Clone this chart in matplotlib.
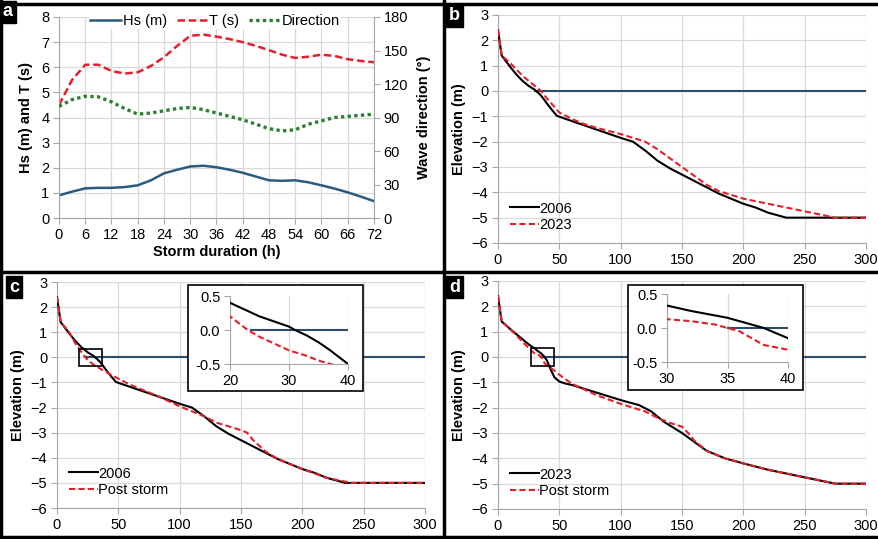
import matplotlib
matplotlib.use("Agg")
import matplotlib.pyplot as plt
from matplotlib.patches import Rectangle
from matplotlib.lines import Line2D

plt.rcParams['font.family'] = ['Liberation Sans', 'DejaVu Sans']
plt.rcParams['font.size'] = 10.5

# ---- panel a: storm time series ----
hours = [0, 3, 6, 9, 12, 15, 18, 21, 24, 27, 30, 33, 36, 39, 42, 45, 48, 51, 54,
         57, 60, 63, 66, 69, 72]
hs = [0.9, 1.05, 1.18, 1.2, 1.2, 1.23, 1.3, 1.5, 1.78, 1.92, 2.05, 2.08, 2.02,
      1.92, 1.8, 1.65, 1.5, 1.48, 1.5, 1.42, 1.3, 1.17, 1.02, 0.85, 0.67]
period = [4.5, 5.5, 6.1, 6.1, 5.85, 5.75, 5.8, 6.05, 6.4, 6.85, 7.25, 7.3, 7.22,
          7.12, 7.0, 6.85, 6.68, 6.5, 6.37, 6.42, 6.5, 6.45, 6.32, 6.25, 6.2]
direction = [100, 106, 109, 108.5, 104, 98, 93, 94, 96, 98, 99, 97, 94, 91, 88,
             84, 80, 78, 79, 84, 87, 90, 91, 92, 93]

# ---- beach profiles (distance m, elevation m) ----
x_2006 = [0, 3, 10, 15, 20, 25, 30, 31, 33, 35, 37, 40, 44, 48, 55, 70, 85, 100,
          110, 120, 130, 140, 150, 160, 170, 180, 190, 200, 210, 220, 235, 300]
z_2006 = [2.4, 1.4, 0.95, 0.65, 0.4, 0.2, 0.05, 0.0, -0.08, -0.18, -0.3, -0.5,
          -0.75, -0.98, -1.1, -1.35, -1.6, -1.85, -2.0, -2.35, -2.75, -3.05, -3.3,
          -3.55, -3.8, -4.05, -4.25, -4.45, -4.6, -4.8, -5.0, -5.0]

x_2023_b = [0, 3, 10, 20, 30, 35, 40, 50, 60, 70, 80, 100, 120, 130, 140, 150,
            160, 170, 180, 190, 200, 220, 240, 260, 275, 300]
z_2023_b = [2.4, 1.4, 1.1, 0.6, 0.2, 0.0, -0.3, -0.85, -1.1, -1.3, -1.45, -1.7,
            -2.0, -2.3, -2.65, -3.0, -3.35, -3.7, -3.95, -4.1, -4.25, -4.45,
            -4.65, -4.85, -5.0, -5.0]

x_post_c = [0, 3, 10, 15, 20, 23, 25, 28, 30, 33, 35, 37, 40, 45, 50, 60, 80,
            100, 120, 130, 140, 150, 155, 160, 170, 180, 200, 220, 240, 300]
z_post_c = [2.4, 1.4, 1.0, 0.55, 0.2, 0.0, -0.1, -0.22, -0.3, -0.38, -0.45,
            -0.5, -0.58, -0.72, -0.85, -1.1, -1.5, -1.95, -2.35, -2.6, -2.75,
            -2.9, -3.0, -3.3, -3.75, -4.05, -4.45, -4.8, -5.0, -5.0]

x_2023_d = [0, 3, 10, 20, 25, 30, 32, 35, 38, 40, 43, 46, 50, 55, 60, 80, 100,
            115, 125, 135, 150, 160, 170, 185, 200, 220, 240, 260, 275, 300]
z_2023_d = [2.4, 1.4, 1.1, 0.7, 0.5, 0.33, 0.25, 0.15, 0.0, -0.15, -0.5, -0.8,
            -0.97, -1.05, -1.1, -1.4, -1.7, -1.9, -2.15, -2.55, -3.0, -3.35, -3.7,
            -4.0, -4.2, -4.45, -4.65, -4.85, -5.0, -5.0]

x_post_d = [0, 3, 10, 20, 25, 30, 32, 34, 35, 36, 37, 38, 40, 45, 50, 60, 80,
            100, 120, 130, 140, 150, 155, 160, 170, 185, 200, 220, 240, 260, 275,
            300]
z_post_d = [2.4, 1.4, 1.1, 0.6, 0.35, 0.13, 0.1, 0.05, 0.0, -0.05, -0.15, -0.25,
            -0.32, -0.5, -0.7, -1.05, -1.5, -1.85, -2.15, -2.4, -2.6, -2.75, -3.0,
            -3.3, -3.7, -4.0, -4.2, -4.45, -4.65, -4.85, -5.0, -5.0]

# sea level starts where the shoreline meets z = 0
sea_start = {'b': 30, 'c': 23.5, 'd': 35}

RED = '#E3202A'
BLUE = '#2B5B7E'
SEA = '#2E4D6E'
GREEN = '#2E7D32'
GRID = '#D9D9D9'
SPINE = '#A6A6A6'

W, H = 879, 539
fig = plt.figure(figsize=(W / 100, H / 100), dpi=100)


def px_axes(x0, x1, ytop, ybot):
    return fig.add_axes([x0 / W, (H - ybot) / H, (x1 - x0) / W, (ybot - ytop) / H])


def style(ax, grid_y=True):
    for s in ['top', 'right']:
        ax.spines[s].set_visible(False)
    for s in ['left', 'bottom']:
        ax.spines[s].set_color(SPINE)
    ax.tick_params(direction='out', length=4, color=SPINE, pad=3)
    ax.grid(True, axis='x', color=GRID, lw=0.9)
    if grid_y:
        ax.grid(True, axis='y', color=GRID, lw=0.9)
    ax.set_axisbelow(True)


# ---- panel a ----
ax = px_axes(59, 374, 17, 218)
style(ax)
l1, = ax.plot(hours, hs, color=BLUE, lw=1.8, label='Hs (m)')
l2, = ax.plot(hours, period, color=RED, lw=1.8, ls=(0, (3, 1.5)), label='T (s)')
ax.set_xlim(0, 72)
ax.set_ylim(0, 8)
ax.set_xticks(range(0, 73, 6))
ax.set_yticks(range(0, 9))
ax.set_xlabel('Storm duration (h)', fontweight='bold', labelpad=2)
ax.set_ylabel('Hs (m) and T (s)', fontweight='bold', labelpad=6)
ax2 = ax.twinx()
l3, = ax2.plot(hours, direction, color=GREEN, lw=2.4, ls=(0, (1, 1)),
               label='Direction')
ax2.set_ylim(0, 180)
ax2.set_yticks(range(0, 181, 30))
for s in ['top', 'left', 'bottom']:
    ax2.spines[s].set_visible(False)
ax2.spines['right'].set_color(SPINE)
ax2.tick_params(direction='out', length=4, color=SPINE, pad=3)
ax2.set_ylabel('Wave direction (°)', fontweight='bold', labelpad=6)
leg = ax2.legend(handles=[l1, l2, l3], loc='upper center', ncol=3,
                 bbox_to_anchor=(0.495, 1.06), frameon=True, fancybox=False,
                 edgecolor='none', framealpha=1, handlelength=2.1,
                 handletextpad=0.1, columnspacing=0.7, borderpad=0.1,
                 fontsize=10.5)


def profile_panel(x0, x1, ytop, ybot, profiles, labels, start):
    ax = px_axes(x0, x1, ytop, ybot)
    style(ax)
    ax.plot([start, 300], [0, 0], color=SEA, lw=1.5, zorder=2)
    (xa, za), (xb, zb) = profiles
    h1, = ax.plot(xa, za, color='black', lw=1.5, label=labels[0], zorder=3)
    h2, = ax.plot(xb, zb, color=RED, lw=1.5, ls=(0, (3, 1.5)), label=labels[1],
                  zorder=4)
    ax.set_xlim(0, 300)
    ax.set_ylim(-6, 3)
    ax.set_xticks(range(0, 301, 50))
    ax.set_yticks(range(-6, 4))
    ax.set_ylabel('Elevation (m)', fontweight='bold', labelpad=4)
    ax.legend(handles=[h1, h2], loc='lower left', bbox_to_anchor=(0.0, -0.005),
              frameon=False, handlelength=2.0, handletextpad=0.0,
              labelspacing=0.2, borderpad=0.3, fontsize=10.5)
    return ax


def inset(x0, x1, ytop, ybot, box, profiles, xlim, xticks, start):
    bx0, bx1, by0, by1 = box
    fig.add_artist(Rectangle((bx0 / W, (H - by1) / H), (bx1 - bx0) / W,
                             (by1 - by0) / H, transform=fig.transFigure,
                             facecolor='white', edgecolor='black', lw=1.2,
                             zorder=5))
    ax = px_axes(x0, x1, ytop, ybot)
    ax.set_zorder(6)
    ax.patch.set_alpha(0)
    for s in ['top', 'right']:
        ax.spines[s].set_visible(False)
    for s in ['left', 'bottom']:
        ax.spines[s].set_color(SPINE)
    ax.tick_params(direction='out', length=4, color=SPINE, pad=3)
    ax.grid(True, axis='x', color=GRID, lw=0.9)
    ax.plot([start, 300], [0, 0], color=SEA, lw=1.5, zorder=2)
    (xa, za), (xb, zb) = profiles
    ax.plot(xa, za, color='black', lw=1.5, zorder=3)
    ax.plot(xb, zb, color=RED, lw=1.5, ls=(0, (3, 1.5)), zorder=4)
    ax.set_xlim(*xlim)
    ax.set_ylim(-0.5, 0.5)
    ax.set_xticks(xticks)
    ax.set_yticks([-0.5, 0.0, 0.5])
    ax.set_yticklabels(['-0.5', '0.0', '0.5'])


# ---- panel b ----
profile_panel(498, 866, 15, 243, [(x_2006, z_2006), (x_2023_b, z_2023_b)],
              ['2006', '2023'], sea_start['b'])

# ---- panel c ----
axc = profile_panel(57, 425, 282, 508, [(x_2006, z_2006), (x_post_c, z_post_c)],
                    ['2006', 'Post storm'], sea_start['c'])
axc.add_patch(Rectangle((18, -0.35), 19, 0.7, fill=False, ec='black', lw=1.2,
                        zorder=5))
inset(230, 348, 296, 364, (188, 363, 285, 391),
      [(x_2006, z_2006), (x_post_c, z_post_c)], (20, 40), [20, 30, 40],
      sea_start['c'])

# ---- panel d ----
axd = profile_panel(498, 866, 281, 509, [(x_2023_d, z_2023_d), (x_post_d, z_post_d)],
                    ['2023', 'Post storm'], sea_start['d'])
axd.add_patch(Rectangle((26.5, -0.35), 19, 0.7, fill=False, ec='black', lw=1.2,
                        zorder=5))
inset(667, 788, 294, 362, (628, 803, 285, 390),
      [(x_2023_d, z_2023_d), (x_post_d, z_post_d)], (30, 40), [30, 35, 40],
      sea_start['d'])

# ---- panel frames ----
def hline(y, x0, x1):
    fig.add_artist(Line2D([x0 / W, x1 / W], [(H - y) / H] * 2, color='black',
                          lw=2.5, transform=fig.transFigure, zorder=10))


def vline(x, y0, y1):
    fig.add_artist(Line2D([x / W] * 2, [(H - y0) / H, (H - y1) / H],
                          color='black', lw=2.5, transform=fig.transFigure,
                          zorder=10))


hline(4, 0, W)
hline(272, 0, W)
hline(537, 0, W)
vline(1, 0, H)
vline(444, 0, H)

for lab, (x, y) in {'a': (3, 12), 'b': (449, 16), 'c': (9, 287), 'd': (449, 287)}.items():
    fig.text(x / W, (H - y) / H, lab, color='white', fontweight='bold',
             fontsize=13, va='center', ha='left',
             bbox=dict(boxstyle='square,pad=0.15', fc='black', ec='black'),
             zorder=11)

fig.savefig('out.png', dpi=100)
